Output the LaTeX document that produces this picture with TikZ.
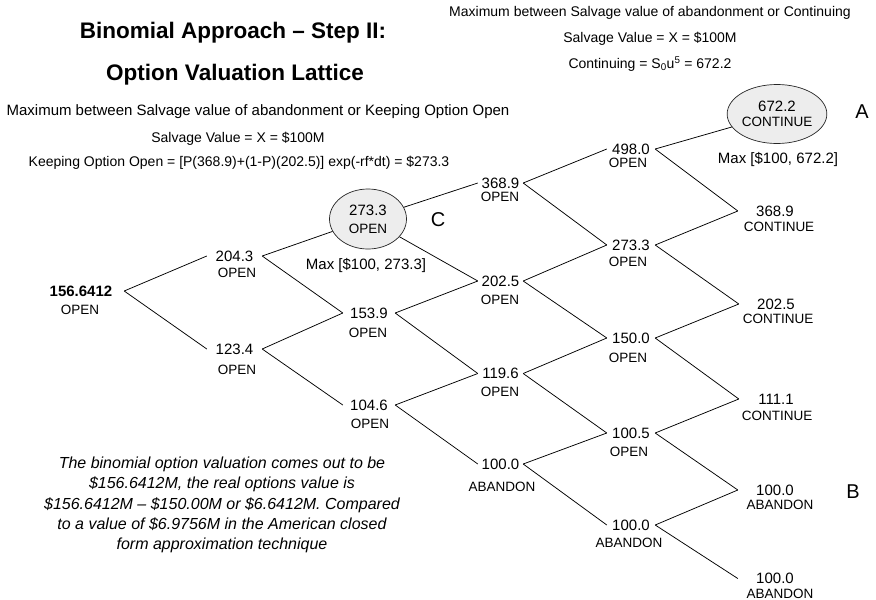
\documentclass[tikz,border=0pt]{standalone}
\usepackage{fontspec}
\setmainfont{Liberation Sans}
\usetikzlibrary{shapes.geometric}
\newcommand{\NumFont}{\fontsize{15}{18}\selectfont}
\newcommand{\StatFont}{\fontsize{13.5}{16}\selectfont}
\begin{document}
\begin{tikzpicture}[x=1pt,y=-1pt,
  num/.style={inner xsep=0pt, inner ysep=2pt, font=\NumFont},
  stat/.style={inner sep=0pt, font=\StatFont},
  colA/.style={num, minimum width=55pt},
  colB/.style={num, minimum width=52pt},
  colC/.style={num, minimum width=45pt},
  colD/.style={num, minimum width=48pt},
  colE/.style={num, minimum width=74pt},
  oval/.style={ellipse, draw=black!85, fill=black!7, line width=0.7pt, inner sep=0pt, align=center, font=\NumFont},
  link/.style={line width=0.75pt, black},
  note/.style={inner sep=0pt, font=\fontsize{14}{17}\selectfont},
  maxl/.style={inner sep=0pt, font=\fontsize{15}{18}\selectfont},
  tag/.style={inner sep=0pt, font=\fontsize{20}{24}\selectfont},
  ttl/.style={inner sep=0pt, font=\bfseries\fontsize{22.5}{27}\selectfont},
  para/.style={inner sep=0pt, align=center, font=\itshape\fontsize{16}{20.3}\selectfont}]
\fill[white] (0,0) rectangle (876,600);
\useasboundingbox (0,0) rectangle (876,600);

% titles and notes
\node[ttl] (t1) at (233,33) {Binomial Approach -- Step II:};
\node[ttl] (t2) at (235,75) {Option Valuation Lattice};
\node[note, font=\fontsize{15}{18}\selectfont] (l1) at (258,112) {Maximum between Salvage value of abandonment or Keeping Option Open};
\node[note] (l2) at (238,139) {Salvage Value = X = \$100M};
\node[note] (l3) at (239,163) {Keeping Option Open = [P(368.9)+(1-P)(202.5)] exp(-rf*dt) = \$273.3};
\node[note] (r1) at (650,13) {Maximum between Salvage value of abandonment or Continuing};
\node[note] (r2) at (650,39) {Salvage Value = X = \$100M};
\node[note] (r3) at (650,64) {Continuing = S\textsubscript{0}u\textsuperscript{5} = 672.2};

% column 0
\node[num, minimum width=86pt, font=\bfseries\NumFont] (n0) at (81,291) {156.6412};
\node[stat] (s0) at (80,310) {OPEN};
% column 1
\node[colA] (n1u) at (234.5,256) {204.3};
\node[stat] (s1u) at (237,273) {OPEN};
\node[colA] (n1d) at (234.5,349) {123.4};
\node[stat] (s1d) at (237,370) {OPEN};
% column 2
\node[oval, minimum width=77pt, minimum height=60pt] (n2u) at (368,219) {273.3\\[0pt]{\StatFont OPEN}};
\node[colB] (n2m) at (369,313) {153.9};
\node[stat] (s2m) at (368,333) {OPEN};
\node[colB] (n2d) at (369,405) {104.6};
\node[stat] (s2d) at (370,424) {OPEN};
% column 3
\node[colC] (n3a) at (500.5,183) {368.9};
\node[stat] (s3a) at (500,197) {OPEN};
\node[colC] (n3b) at (500.5,281) {202.5};
\node[stat] (s3b) at (500,300) {OPEN};
\node[colC] (n3c) at (500.5,373.5) {119.6};
\node[stat] (s3c) at (500,392) {OPEN};
\node[colC] (n3d) at (500.5,464) {100.0};
\node[stat] (s3d) at (502,487) {ABANDON};
% column 4
\node[colD] (n4a) at (631,149) {498.0};
\node[stat] (s4a) at (628,163) {OPEN};
\node[colD] (n4b) at (631,245) {273.3};
\node[stat] (s4b) at (628,262) {OPEN};
\node[colD] (n4c) at (631,338) {150.0};
\node[stat] (s4c) at (628,358) {OPEN};
\node[colD] (n4d) at (631,433) {100.5};
\node[stat] (s4d) at (629,452) {OPEN};
\node[colD] (n4e) at (631,525) {100.0};
\node[stat] (s4e) at (629,543) {ABANDON};
% column 5
\node[oval, minimum width=91pt, minimum height=59pt] (n5a) at (777,114) {672.2\\[-3pt]{\StatFont CONTINUE}};
\node[colE] (n5b) at (775,211) {368.9};
\node[stat] (s5b) at (779,227) {CONTINUE};
\node[colE] (n5c) at (776,304) {202.5};
\node[stat] (s5c) at (778,319) {CONTINUE};
\node[colE] (n5d) at (776,399) {111.1};
\node[stat] (s5d) at (777,416) {CONTINUE};
\node[colE] (n5e) at (775,490) {100.0};
\node[stat] (s5e) at (780,505) {ABANDON};
\node[colE] (n5f) at (775,578.5) {100.0};
\node[stat] (s5f) at (780,593.5) {ABANDON};

% max labels and tags
\node[maxl] (m1) at (366,266) {Max [\$100, 273.3]};
\node[maxl] (m2) at (778,160) {Max [\$100, 672.2]};
\node[tag] (tA) at (862,112) {A};
\node[tag] (tB) at (853,492) {B};
\node[tag] (tC) at (438,220) {C};

% paragraph
\node[para] (p) at (222,505) {The binomial option valuation comes out to be\\
\$156.6412M, the real options value is\\
\$156.6412M -- \$150.00M or \$6.6412M. Compared\\
to a value of \$6.9756M in the American closed\\
form approximation technique};

% lattice links
\draw[link] (n0.east) -- (n1u.west);
\draw[link] (n0.east) -- (n1d.west);
\draw[link] (n1u.east) -- (n2u);
\draw[link] (n1u.east) -- (n2m.west);
\draw[link] (n1d.east) -- (n2m.west);
\draw[link] (n1d.east) -- (n2d.west);
\draw[link] (n2u) -- (n3a.west);
\draw[link] (n2u) -- (n3b.west);
\draw[link] (n2m.east) -- (n3b.west);
\draw[link] (n2m.east) -- (n3c.west);
\draw[link] (n2d.east) -- (n3c.west);
\draw[link] (n2d.east) -- (n3d.west);
\draw[link] (n3a.east) -- (n4a.west);
\draw[link] (n3a.east) -- (n4b.west);
\draw[link] (n3b.east) -- (n4b.west);
\draw[link] (n3b.east) -- (n4c.west);
\draw[link] (n3c.east) -- (n4c.west);
\draw[link] (n3c.east) -- (n4d.west);
\draw[link] (n3d.east) -- (n4d.west);
\draw[link] (n3d.east) -- (n4e.west);
\draw[link] (n4a.east) -- (n5a);
\draw[link] (n4a.east) -- (n5b.west);
\draw[link] (n4b.east) -- (n5b.west);
\draw[link] (n4b.east) -- (n5c.west);
\draw[link] (n4c.east) -- (n5c.west);
\draw[link] (n4c.east) -- (n5d.west);
\draw[link] (n4d.east) -- (n5d.west);
\draw[link] (n4d.east) -- (n5e.west);
\draw[link] (n4e.east) -- (n5e.west);
\draw[link] (n4e.east) -- (n5f.west);
\end{tikzpicture}
\end{document}
